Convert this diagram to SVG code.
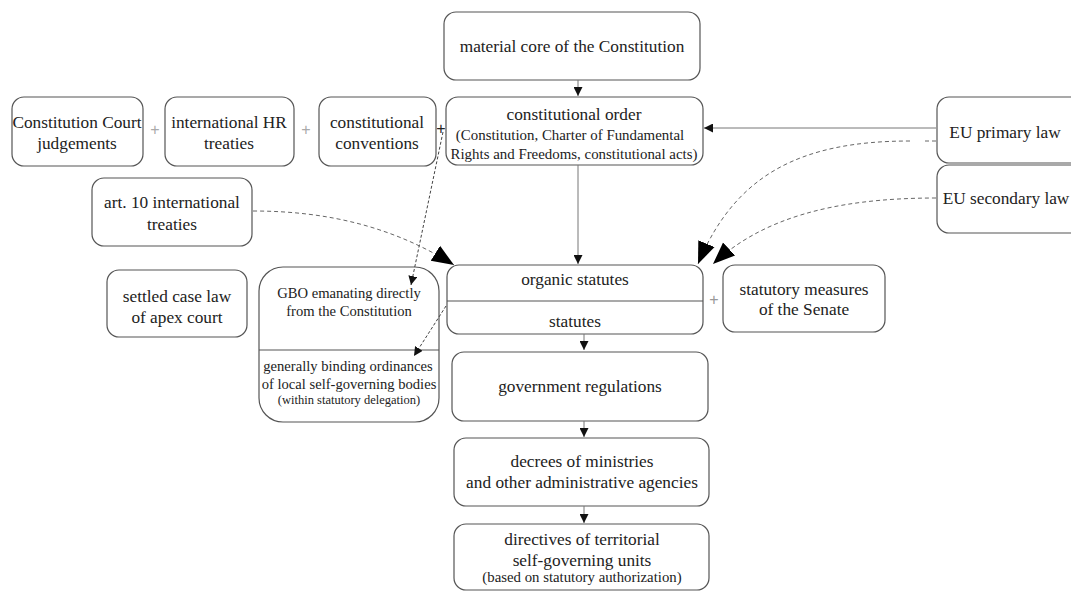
<svg xmlns="http://www.w3.org/2000/svg" width="1071" height="592" viewBox="0 0 1071 592">
<defs>
<style>
.box{fill:#fff;stroke:#555;stroke-width:1.2}
.t{font-family:"Liberation Serif","Times New Roman",serif;fill:#222;text-anchor:middle}
.f16{font-size:17.3px}
.f14{font-size:14.9px}
.f13{font-size:14.8px}
.f11{font-size:12.5px}
.fg{font-size:14.6px}
.ln{fill:none;stroke:#777;stroke-width:1}
.dash{fill:none;stroke:#666;stroke-width:1;stroke-dasharray:4 3}
.dot{fill:none;stroke:#444;stroke-width:1;stroke-dasharray:3 2}
.plus{font-family:"Liberation Sans",Arial,sans-serif;font-size:16px;text-anchor:middle}
</style>
<marker id="sa" viewBox="0 0 10 10" refX="10" refY="5" markerWidth="9" markerHeight="9" markerUnits="userSpaceOnUse" orient="auto">
<path d="M0,0 L10,5 L0,10 z" fill="#111"/>
</marker>
<marker id="ba" viewBox="0 0 10 10" refX="10" refY="5" markerWidth="22" markerHeight="22" markerUnits="userSpaceOnUse" orient="auto">
<path d="M0,1 L10,5 L0,9 z" fill="#000"/>
</marker>
</defs>
<rect width="1071" height="592" fill="#fff"/>

<g id="plus-signs">
<text class="plus" x="155" y="135" fill="#aaa">+</text>
<text class="plus" x="306" y="135" fill="#aaa">+</text>
<text class="plus" x="441" y="134" fill="#222">+</text>
<text class="plus" x="714" y="305" fill="#999">+</text>
</g>

<g id="material-core">
<rect class="box" x="444" y="12" width="256" height="68" rx="12"/>
<text class="t f16" x="572" y="52">material core of the Constitution</text>
</g>

<g id="constitutional-order">
<rect class="box" x="446" y="97" width="257" height="68" rx="12"/>
<text class="t f16" x="574" y="120">constitutional order</text>
<text class="t f14" x="570" y="140">(Constitution, Charter of Fundamental</text>
<text class="t f14" x="574" y="159">Rights and Freedoms, constitutional acts)</text>
</g>

<g id="cc-judgements">
<rect class="box" x="12" y="97" width="131" height="69" rx="12"/>
<text class="t f16" x="77" y="128">Constitution Court</text>
<text class="t f16" x="77" y="149">judgements</text>
</g>

<g id="hr-treaties">
<rect class="box" x="165" y="97" width="129" height="69" rx="12"/>
<text class="t f16" x="229" y="128">international HR</text>
<text class="t f16" x="229" y="149">treaties</text>
</g>

<g id="const-conventions">
<rect class="box" x="319" y="97" width="117" height="69" rx="12"/>
<text class="t f16" x="377" y="128">constitutional</text>
<text class="t f16" x="377" y="149">conventions</text>
</g>

<g id="eu-primary">
<rect class="box" x="937" y="97" width="150" height="66" rx="12"/>
<text class="t f16" x="1005" y="138">EU primary law</text>
</g>

<g id="eu-secondary">
<rect class="box" x="937" y="165" width="150" height="68" rx="12"/>
<text class="t f16" x="1006" y="204">EU secondary law</text>
</g>

<g id="art10">
<rect class="box" x="92" y="178" width="160" height="68" rx="12"/>
<text class="t f16" x="172" y="208">art. 10 international</text>
<text class="t f16" x="172" y="230">treaties</text>
</g>

<g id="settled-case-law">
<rect class="box" x="107" y="270" width="140" height="67" rx="12"/>
<text class="t f16" x="177" y="302">settled case law</text>
<text class="t f16" x="177" y="323">of apex court</text>
</g>

<g id="gbo">
<rect class="box" x="259" y="267" width="180" height="155" rx="24"/>
<line x1="259" y1="350" x2="439" y2="350" stroke="#555" stroke-width="1.2"/>
<text class="t fg" x="349" y="298">GBO emanating directly</text>
<text class="t fg" x="349" y="316">from the Constitution</text>
<text class="t fg" x="348" y="371">generally binding ordinances</text>
<text class="t fg" x="349" y="389">of local self-governing bodies</text>
<text class="t f11" x="349" y="404">(within statutory delegation)</text>
</g>

<g id="statutes">
<rect class="box" x="447" y="265" width="256" height="69" rx="12"/>
<line x1="447" y1="301" x2="703" y2="301" stroke="#555" stroke-width="1.2"/>
<text class="t f16" x="575" y="285">organic statutes</text>
<text class="t f16" x="575" y="327">statutes</text>
</g>

<g id="senate">
<rect class="box" x="723" y="265" width="162" height="67" rx="12"/>
<text class="t f16" x="804" y="295">statutory measures</text>
<text class="t f16" x="804" y="315">of the Senate</text>
</g>

<g id="gov-regs">
<rect class="box" x="452" y="352" width="256" height="69" rx="12"/>
<text class="t f16" x="580" y="392">government regulations</text>
</g>

<g id="decrees">
<rect class="box" x="454" y="438" width="255" height="68" rx="12"/>
<text class="t f16" x="582" y="467">decrees of ministries</text>
<text class="t f16" x="582" y="488">and other administrative agencies</text>
</g>

<g id="directives">
<rect class="box" x="454" y="524" width="255" height="66" rx="12"/>
<text class="t f16" x="582" y="545">directives of territorial</text>
<text class="t f16" x="582" y="566">self-governing units</text>
<text class="t f13" x="582" y="582">(based on statutory authorization)</text>
</g>

<g id="connectors">
<line class="ln" x1="578" y1="80" x2="578" y2="96" marker-end="url(#sa)"/>
<line class="ln" x1="936" y1="128" x2="704" y2="128" marker-end="url(#sa)"/>
<line class="ln" x1="578" y1="165" x2="578" y2="264" marker-end="url(#sa)"/>
<line class="ln" x1="584" y1="334" x2="584" y2="350" marker-end="url(#sa)"/>
<line class="ln" x1="584" y1="421" x2="584" y2="437" marker-end="url(#sa)"/>
<line class="ln" x1="584" y1="506" x2="584" y2="523" marker-end="url(#sa)"/>
<path class="dot" d="M443,132 L411,285" marker-end="url(#sa)"/>
<path class="dot" d="M446,306 L414,356" marker-end="url(#sa)"/>
<path class="dash" d="M253,211 C330,211 395,228 454,265" marker-end="url(#ba)"/>
<path class="dash" d="M936,141 L925,141 M910,141 C800,141 735,175 698,264" marker-end="url(#ba)"/>
<path class="dash" d="M936,198 C830,198 760,220 713,264" marker-end="url(#ba)"/>
</g>
</svg>
